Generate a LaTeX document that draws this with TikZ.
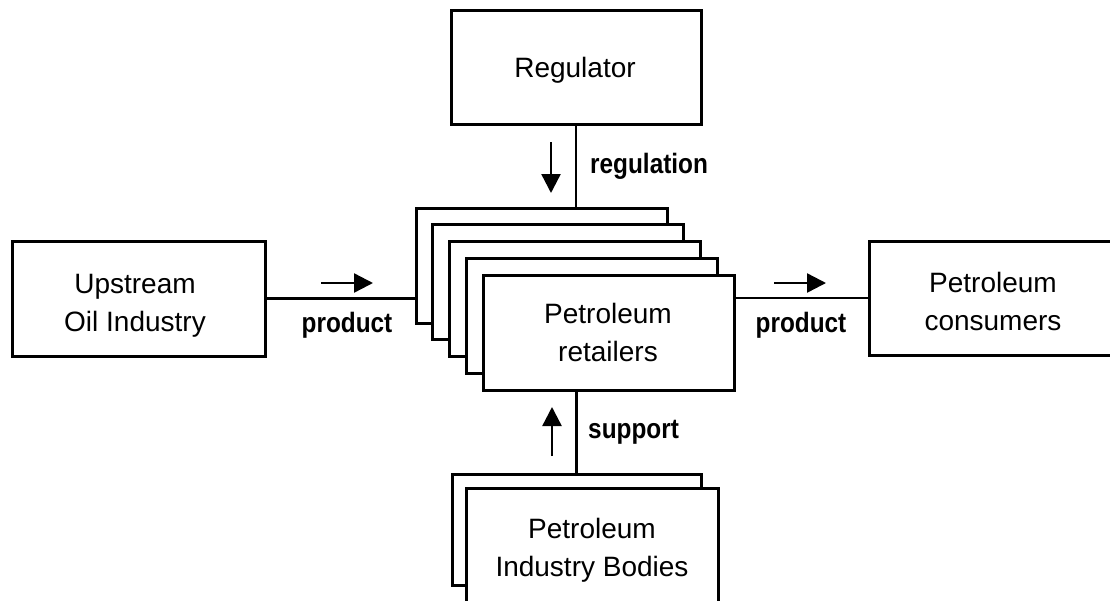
\documentclass[tikz,border=0pt]{standalone}
\usepackage{fontspec}
\setmainfont{Liberation Sans}
\newfontfamily\lblfont{Liberation Sans Bold}[FakeStretch=0.87]
\usetikzlibrary{arrows.meta}
\newcommand\lstrut{\rule[-6pt]{0pt}{26pt}}
\begin{document}
\begin{tikzpicture}[x=1pt,y=-1pt,
  box/.style={draw, line width=3pt, fill=white, inner sep=0pt},
  stk/.style={box, minimum width=251pt, minimum height=115pt},
  txt/.style={align=center, font=\fontsize{28}{38}\selectfont, inner sep=0pt},
  lbl/.style={font=\lblfont\fontsize{28}{34}\selectfont, inner sep=0pt},
  conn/.style={line width=2.5pt},
  dir/.style={line width=2.4pt, -{Triangle[length=19pt,width=19pt]}}]
\useasboundingbox (0,0) rectangle (1110,600);
\clip (0,0) rectangle (1110,600);
% outer boxes
\node[box, minimum width=253pt, minimum height=115pt] (up) at (138.5,298.5) {};
\node[box, minimum width=250pt, minimum height=114pt] (cons) at (994,298) {};
\node[box, minimum width=250pt, minimum height=114pt] (reg) at (576,67) {};
% stacked retailers
\node[stk] (s1) at (541.5,265.5) {};
\node[stk] (s2) at (558.25,282.25) {};
\node[stk] (s3) at (575,299) {};
\node[stk] (s4) at (591.75,315.75) {};
\node[stk] (s5) at (608.5,332.5) {};
% industry bodies
\node[box, minimum width=249pt, minimum height=111pt] (ib1) at (576.5,529.5) {};
\node[box, minimum width=252pt, minimum height=117pt] (ib2) at (592,546.5) {};
% texts
\node[txt] (upt) at (135,305) {\lstrut Upstream\\\lstrut Oil Industry};
\node[txt] (const) at (993,304) {\lstrut Petroleum\\\lstrut consumers};
\node[txt] (regt) at (575,70) {\lstrut Regulator};
\node[txt] (rett) at (608,335) {\lstrut Petroleum\\\lstrut retailers};
\node[txt] (ibt) at (592,550) {\lstrut Petroleum\\\lstrut Industry Bodies};
% connectors
\draw[conn] (reg.south) -- (reg.south |- s1.north);
\draw[conn] (ib1.north) -- (ib1.north |- s5.south);
\draw[conn] (up.east) -- (up.east -| s1.west);
\draw[conn] (s5.east |- cons.west) -- (cons.west);
% direction arrows
\coordinate (la1) at (321,283); \coordinate (la2) at (373,283);
\coordinate (ra1) at (774,283); \coordinate (ra2) at (826,283);
\coordinate (da1) at (551,142); \coordinate (da2) at (551,193);
\coordinate (ua1) at (552,456); \coordinate (ua2) at (552,407);
\draw[dir] (la1) -- (la2);
\draw[dir] (ra1) -- (ra2);
\draw[dir] (da1) -- (da2);
\draw[dir] (ua1) -- (ua2);
% labels
\node[lbl, anchor=base] (pl) at (347,332) {product};
\node[lbl, anchor=base] (pr) at (801,332) {product};
\node[lbl, anchor=base west] (rl) at (590,173) {regulation};
\node[lbl, anchor=base west] (sl) at (588,438) {support};
\end{tikzpicture}
\end{document}
